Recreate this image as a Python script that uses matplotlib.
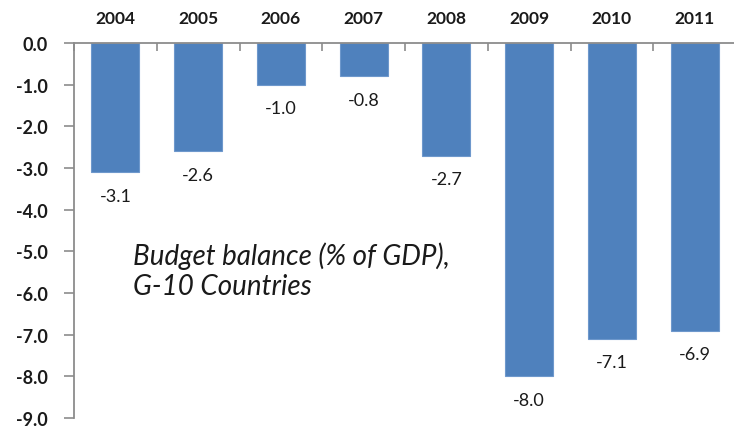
import numpy as np
import matplotlib.pyplot as plt
from matplotlib.ticker import FixedLocator

years = ["2004", "2005", "2006", "2007", "2008", "2009", "2010", "2011"]
balance = [-3.1, -2.6, -1.0, -0.8, -2.7, -8.0, -7.1, -6.9]
y_ticks = [0, -1, -2, -3, -4, -5, -6, -7, -8, -9]

plt.rcParams["font.family"] = ["Lato", "DejaVu Sans"]

BAR = "#4F81BD"
AXIS = "#8C8C8C"


def main():
    fig = plt.figure(figsize=(7.34, 4.31), dpi=100)
    ax = fig.add_axes([74 / 734, 1 - 419 / 431, 662 / 734, 375 / 431])

    x = np.arange(len(years))
    ax.bar(x, balance, width=0.58, color=BAR, edgecolor="#6E98CC", linewidth=0.8, zorder=2)

    for xi, v in zip(x, balance):
        ax.annotate(f"{v:.1f}", xy=(xi, v), xytext=(0, -17), textcoords="offset points",
                    ha="center", va="center", fontsize=13, color="#1a1a1a")

    ax.set_xlim(-0.5, len(years) - 0.5)
    ax.set_ylim(-9, 0)

    # category axis sits on top
    for s in ["right", "bottom"]:
        ax.spines[s].set_visible(False)
    for s in ["left", "top"]:
        ax.spines[s].set_color(AXIS)
        ax.spines[s].set_linewidth(1.3)

    ax.xaxis.set_ticks_position("top")
    ax.xaxis.set_major_locator(FixedLocator(np.arange(len(years) + 1) - 0.5))
    ax.xaxis.set_minor_locator(FixedLocator(x))
    ax.set_xticklabels([""] * (len(years) + 1))
    ax.set_xticklabels(years, minor=True, fontsize=12.5, fontweight="bold", color="#1a1a1a")
    ax.tick_params(axis="x", which="major", direction="in", length=6, width=1.2, color=AXIS)
    ax.tick_params(axis="x", which="minor", direction="in", length=5, width=1.0,
                   color=AXIS, pad=12)

    ax.set_yticks(y_ticks)
    ax.set_yticklabels([f"{t:.1f}" for t in y_ticks], fontsize=13, fontweight="bold",
                       color="#1a1a1a")
    ax.tick_params(axis="y", direction="out", length=7, width=1.2, color=AXIS, pad=12)

    ax.text(133 / 734, 1 - 295 / 431, "Budget balance (% of GDP),\nG-10 Countries",
            transform=fig.transFigure, fontsize=20, style="italic", color="#1a1a1a",
            ha="left", va="baseline", linespacing=1.2)

    fig.savefig("out.png", dpi=100)


if __name__ == "__main__":
    main()
